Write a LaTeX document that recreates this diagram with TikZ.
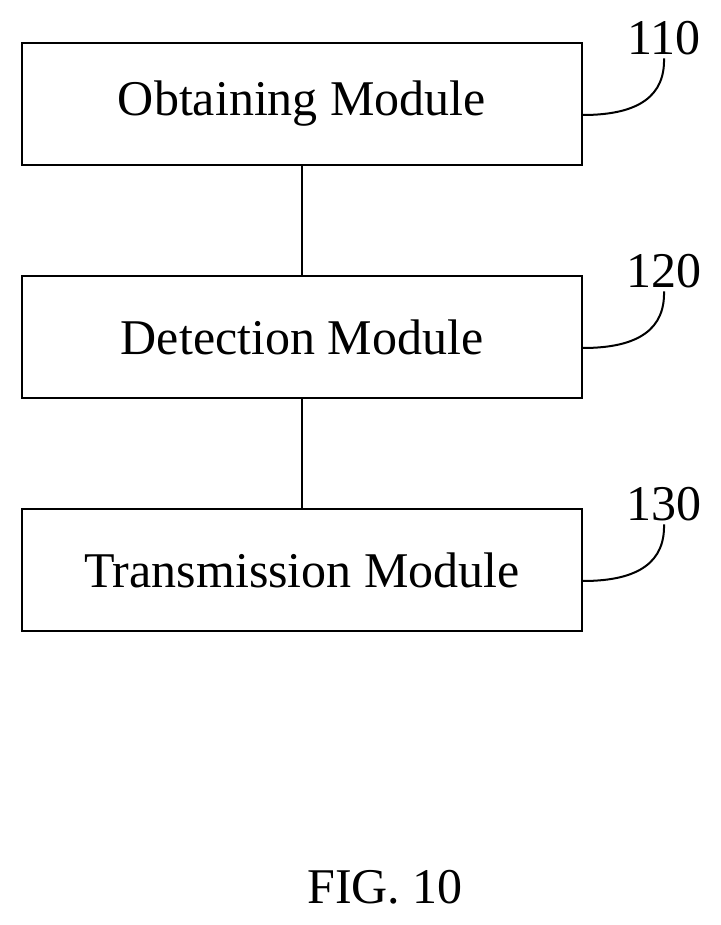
\documentclass[tikz,border=0pt]{standalone}
\usepackage{fontspec}
\setmainfont{Liberation Serif}
\usetikzlibrary{positioning}
\tikzset{
  module/.style={draw, line width=2pt, minimum width=560pt, minimum height=122pt, font=\fontsize{50}{54}\selectfont},
  tag/.style={font=\fontsize{50}{54}\selectfont},
  lead/.style={line width=2pt}
}
\begin{document}
\begin{tikzpicture}[x=1pt,y=1pt]
\useasboundingbox (0,0) rectangle (720,925);
%modules
\node[module] (obtaining)    at (302,821) {Obtaining Module};
\node[module] (detection)    at (302,588) {Detection Module};
\node[module] (transmission) at (302,355) {Transmission Module};
\draw[lead] (obtaining) -- (detection);
\draw[lead] (detection) -- (transmission);

%reference numerals
\node[tag] (tagA) at (664,887) {110};
\node[tag] (tagB) at (664,654) {120};
\node[tag] (tagC) at (664,421) {130};
\draw[lead] (obtaining.east |- 0,810) .. controls (640,810) and (665,830) .. (tagA.south);
\draw[lead] (detection.east |- 0,577) .. controls (640,577) and (665,597) .. (tagB.south);
\draw[lead] (transmission.east |- 0,344) .. controls (640,344) and (665,364) .. (tagC.south);

%caption
\node[tag] (caption) at (385,38) {FIG. 10};
\end{tikzpicture}
\end{document}
